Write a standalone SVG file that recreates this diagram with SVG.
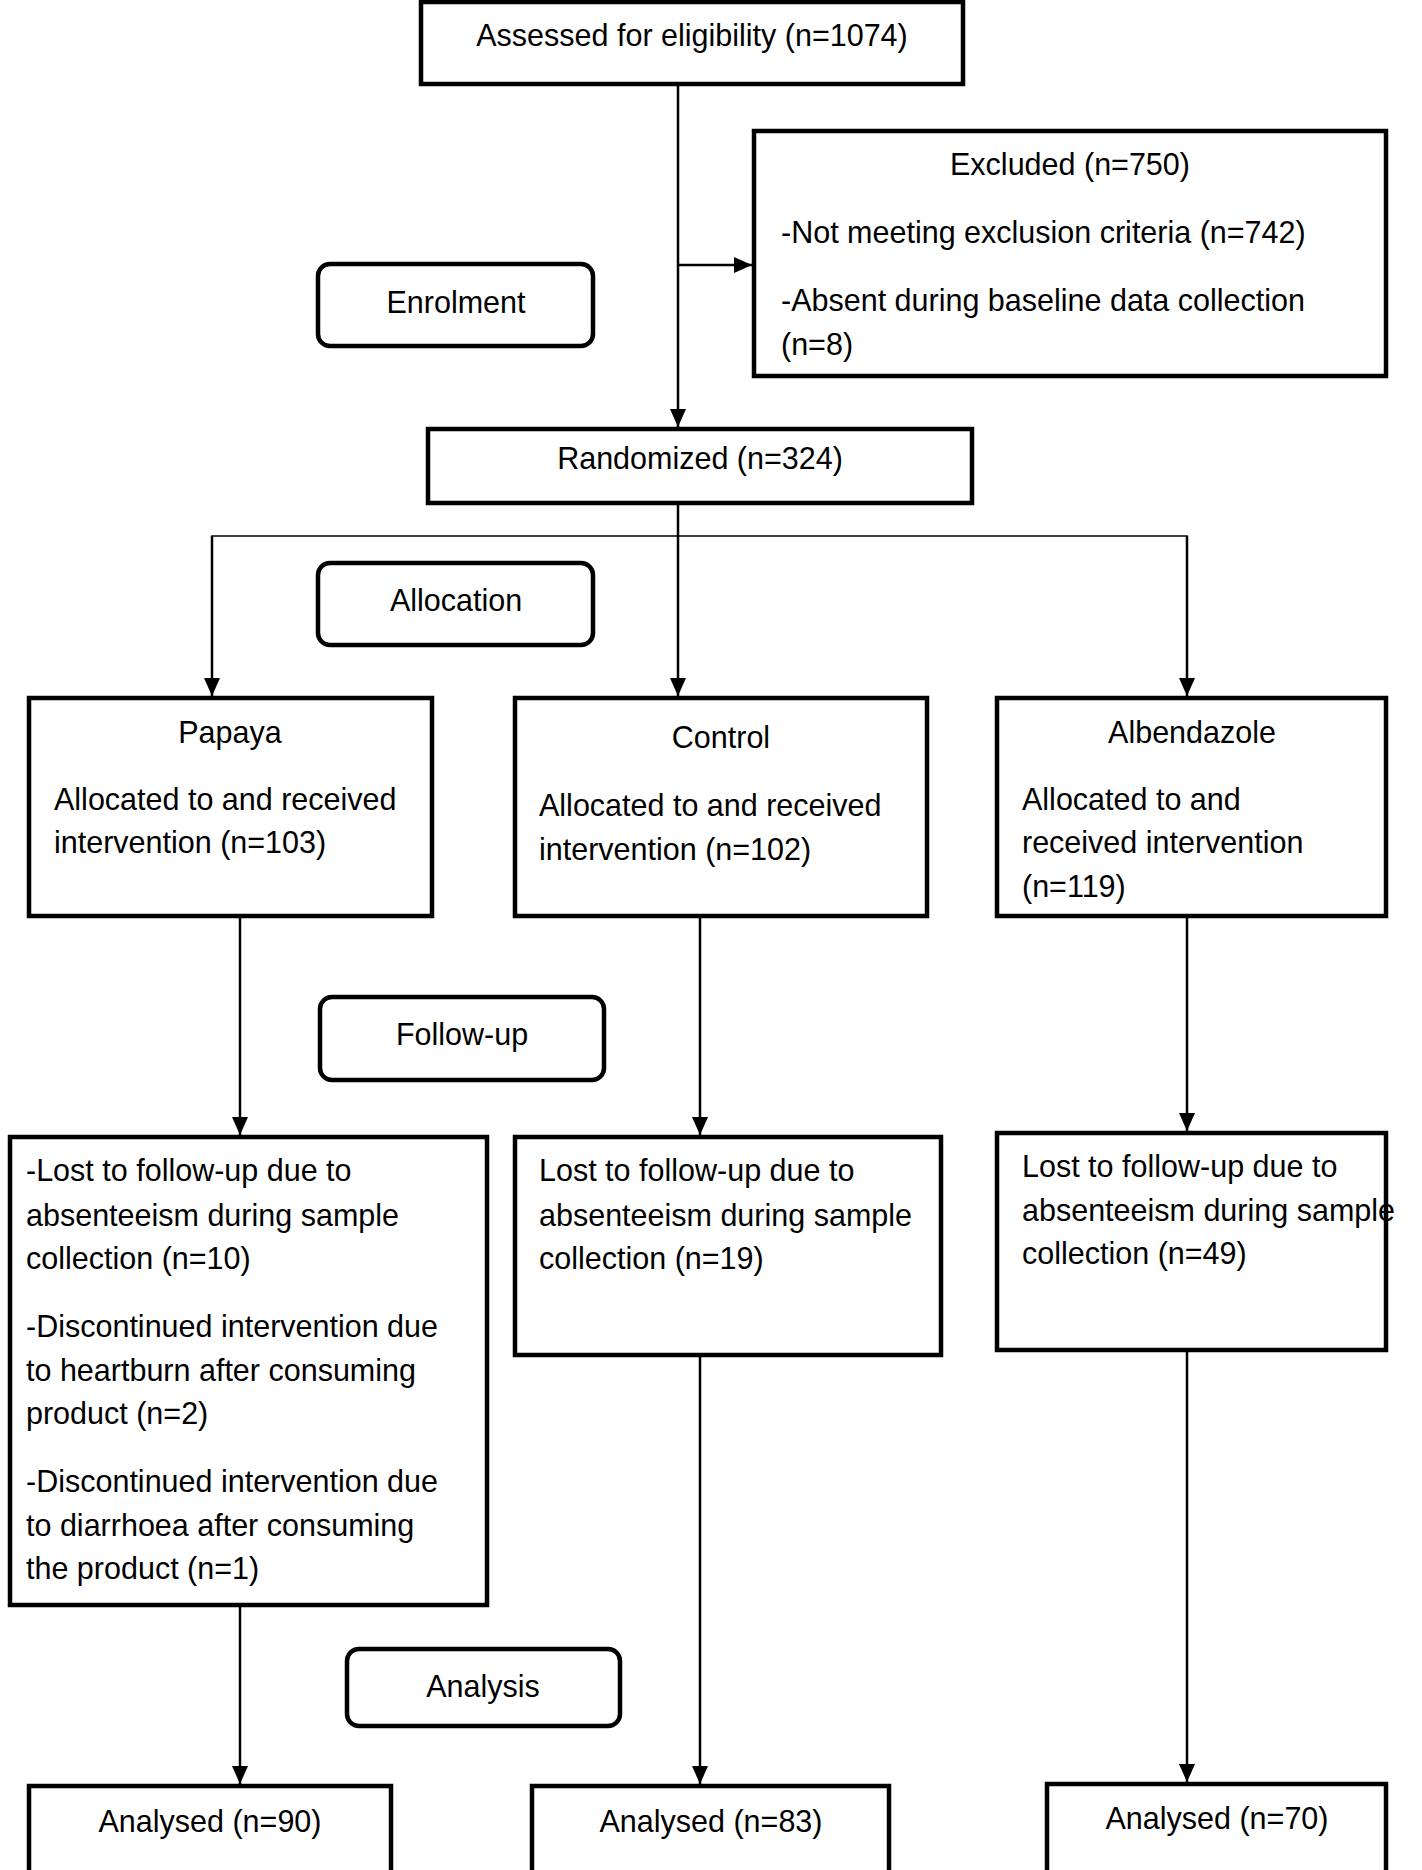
<svg xmlns="http://www.w3.org/2000/svg" width="1422" height="1870" viewBox="0 0 1422 1870">
<style>
  .box { fill: #fff; stroke: #000; stroke-width: 4.5; }
  .rbox { fill: #fff; stroke: #000; stroke-width: 4.5; }
  .t { font-family: "Liberation Sans", Arial, sans-serif; font-size: 30.5px; fill: #000; }
  .c { text-anchor: middle; }
  .ln { stroke: #000; stroke-width: 2.5; fill: none; }
  .thin { stroke: #000; stroke-width: 1.6; fill: none; }
</style>
<defs>
  <marker id="arr" markerWidth="18" markerHeight="16" refX="18" refY="8" orient="auto" markerUnits="userSpaceOnUse">
    <path d="M0,0 L18,8 L0,16 Z" fill="#000"/>
  </marker>
</defs>
<rect width="1422" height="1870" fill="#fff"/>

<g id="connectors">
  <line class="ln" x1="678" y1="84" x2="678" y2="427" marker-end="url(#arr)"/>
  <line class="ln" x1="678" y1="265" x2="752" y2="265" marker-end="url(#arr)"/>
  <line class="ln" x1="678" y1="503" x2="678" y2="696" marker-end="url(#arr)"/>
  <polyline class="thin" points="212,560 212,536 1187,536 1187,560"/>
  <line class="ln" x1="212" y1="536" x2="212" y2="696" marker-end="url(#arr)"/>
  <line class="ln" x1="1187" y1="536" x2="1187" y2="696" marker-end="url(#arr)"/>
  <line class="ln" x1="240" y1="916" x2="240" y2="1135" marker-end="url(#arr)"/>
  <line class="ln" x1="700" y1="916" x2="700" y2="1135" marker-end="url(#arr)"/>
  <line class="ln" x1="1187" y1="916" x2="1187" y2="1131" marker-end="url(#arr)"/>
  <line class="ln" x1="240" y1="1605" x2="240" y2="1784" marker-end="url(#arr)"/>
  <line class="ln" x1="700" y1="1355" x2="700" y2="1784" marker-end="url(#arr)"/>
  <line class="ln" x1="1187" y1="1350" x2="1187" y2="1782" marker-end="url(#arr)"/>
</g>

<g id="assessed">
  <rect class="box" x="421" y="2" width="542" height="82"/>
  <text class="t c" x="692" y="46">Assessed for eligibility (n=1074)</text>
</g>

<g id="excluded">
  <rect class="box" x="754" y="131" width="632" height="245"/>
  <text class="t c" x="1070" y="175">Excluded (n=750)</text>
  <text class="t" x="781" y="243">-Not meeting exclusion criteria (n=742)</text>
  <text class="t" x="781" y="311">-Absent during baseline data collection</text>
  <text class="t" x="781" y="355">(n=8)</text>
</g>

<g id="enrolment">
  <rect class="rbox" x="318" y="264" width="275" height="82" rx="12"/>
  <text class="t c" x="456" y="313">Enrolment</text>
</g>

<g id="randomized">
  <rect class="box" x="428" y="429" width="544" height="74"/>
  <text class="t c" x="700" y="469">Randomized (n=324)</text>
</g>

<g id="allocation">
  <rect class="rbox" x="318" y="563" width="275" height="82" rx="12"/>
  <text class="t c" x="456" y="611">Allocation</text>
</g>

<g id="papaya">
  <rect class="box" x="29" y="698" width="403" height="218"/>
  <text class="t c" x="230" y="743">Papaya</text>
  <text class="t" x="54" y="810">Allocated to and received</text>
  <text class="t" x="54" y="853">intervention (n=103)</text>
</g>

<g id="control">
  <rect class="box" x="515" y="698" width="412" height="218"/>
  <text class="t c" x="721" y="748">Control</text>
  <text class="t" x="539" y="816">Allocated to and received</text>
  <text class="t" x="539" y="860">intervention (n=102)</text>
</g>

<g id="albendazole">
  <rect class="box" x="997" y="698" width="389" height="218"/>
  <text class="t c" x="1192" y="743">Albendazole</text>
  <text class="t" x="1022" y="810">Allocated to and</text>
  <text class="t" x="1022" y="853">received intervention</text>
  <text class="t" x="1022" y="897">(n=119)</text>
</g>

<g id="followup">
  <rect class="rbox" x="320" y="997" width="284" height="83" rx="12"/>
  <text class="t c" x="462" y="1045">Follow-up</text>
</g>

<g id="lost-papaya">
  <rect class="box" x="10" y="1137" width="477" height="468"/>
  <text class="t" x="26" y="1181">-Lost to follow-up due to</text>
  <text class="t" x="26" y="1226">absenteeism during sample</text>
  <text class="t" x="26" y="1269">collection (n=10)</text>
  <text class="t" x="26" y="1337">-Discontinued intervention due</text>
  <text class="t" x="26" y="1381">to heartburn after consuming</text>
  <text class="t" x="26" y="1424">product (n=2)</text>
  <text class="t" x="26" y="1492">-Discontinued intervention due</text>
  <text class="t" x="26" y="1536">to diarrhoea after consuming</text>
  <text class="t" x="26" y="1579">the product (n=1)</text>
</g>

<g id="lost-control">
  <rect class="box" x="515" y="1137" width="426" height="218"/>
  <text class="t" x="539" y="1181">Lost to follow-up due to</text>
  <text class="t" x="539" y="1226">absenteeism during sample</text>
  <text class="t" x="539" y="1269">collection (n=19)</text>
</g>

<g id="lost-albendazole">
  <rect class="box" x="997" y="1133" width="389" height="217"/>
  <text class="t" x="1022" y="1177">Lost to follow-up due to</text>
  <text class="t" x="1022" y="1221">absenteeism during sample</text>
  <text class="t" x="1022" y="1264">collection (n=49)</text>
</g>

<g id="analysis">
  <rect class="rbox" x="347" y="1649" width="273" height="77" rx="12"/>
  <text class="t c" x="483" y="1697">Analysis</text>
</g>

<g id="analysed-papaya">
  <rect class="box" x="29" y="1786" width="362" height="90"/>
  <text class="t c" x="210" y="1832">Analysed (n=90)</text>
</g>

<g id="analysed-control">
  <rect class="box" x="532" y="1786" width="357" height="90"/>
  <text class="t c" x="711" y="1832">Analysed (n=83)</text>
</g>

<g id="analysed-albendazole">
  <rect class="box" x="1047" y="1784" width="339" height="90"/>
  <text class="t c" x="1217" y="1829">Analysed (n=70)</text>
</g>
</svg>
